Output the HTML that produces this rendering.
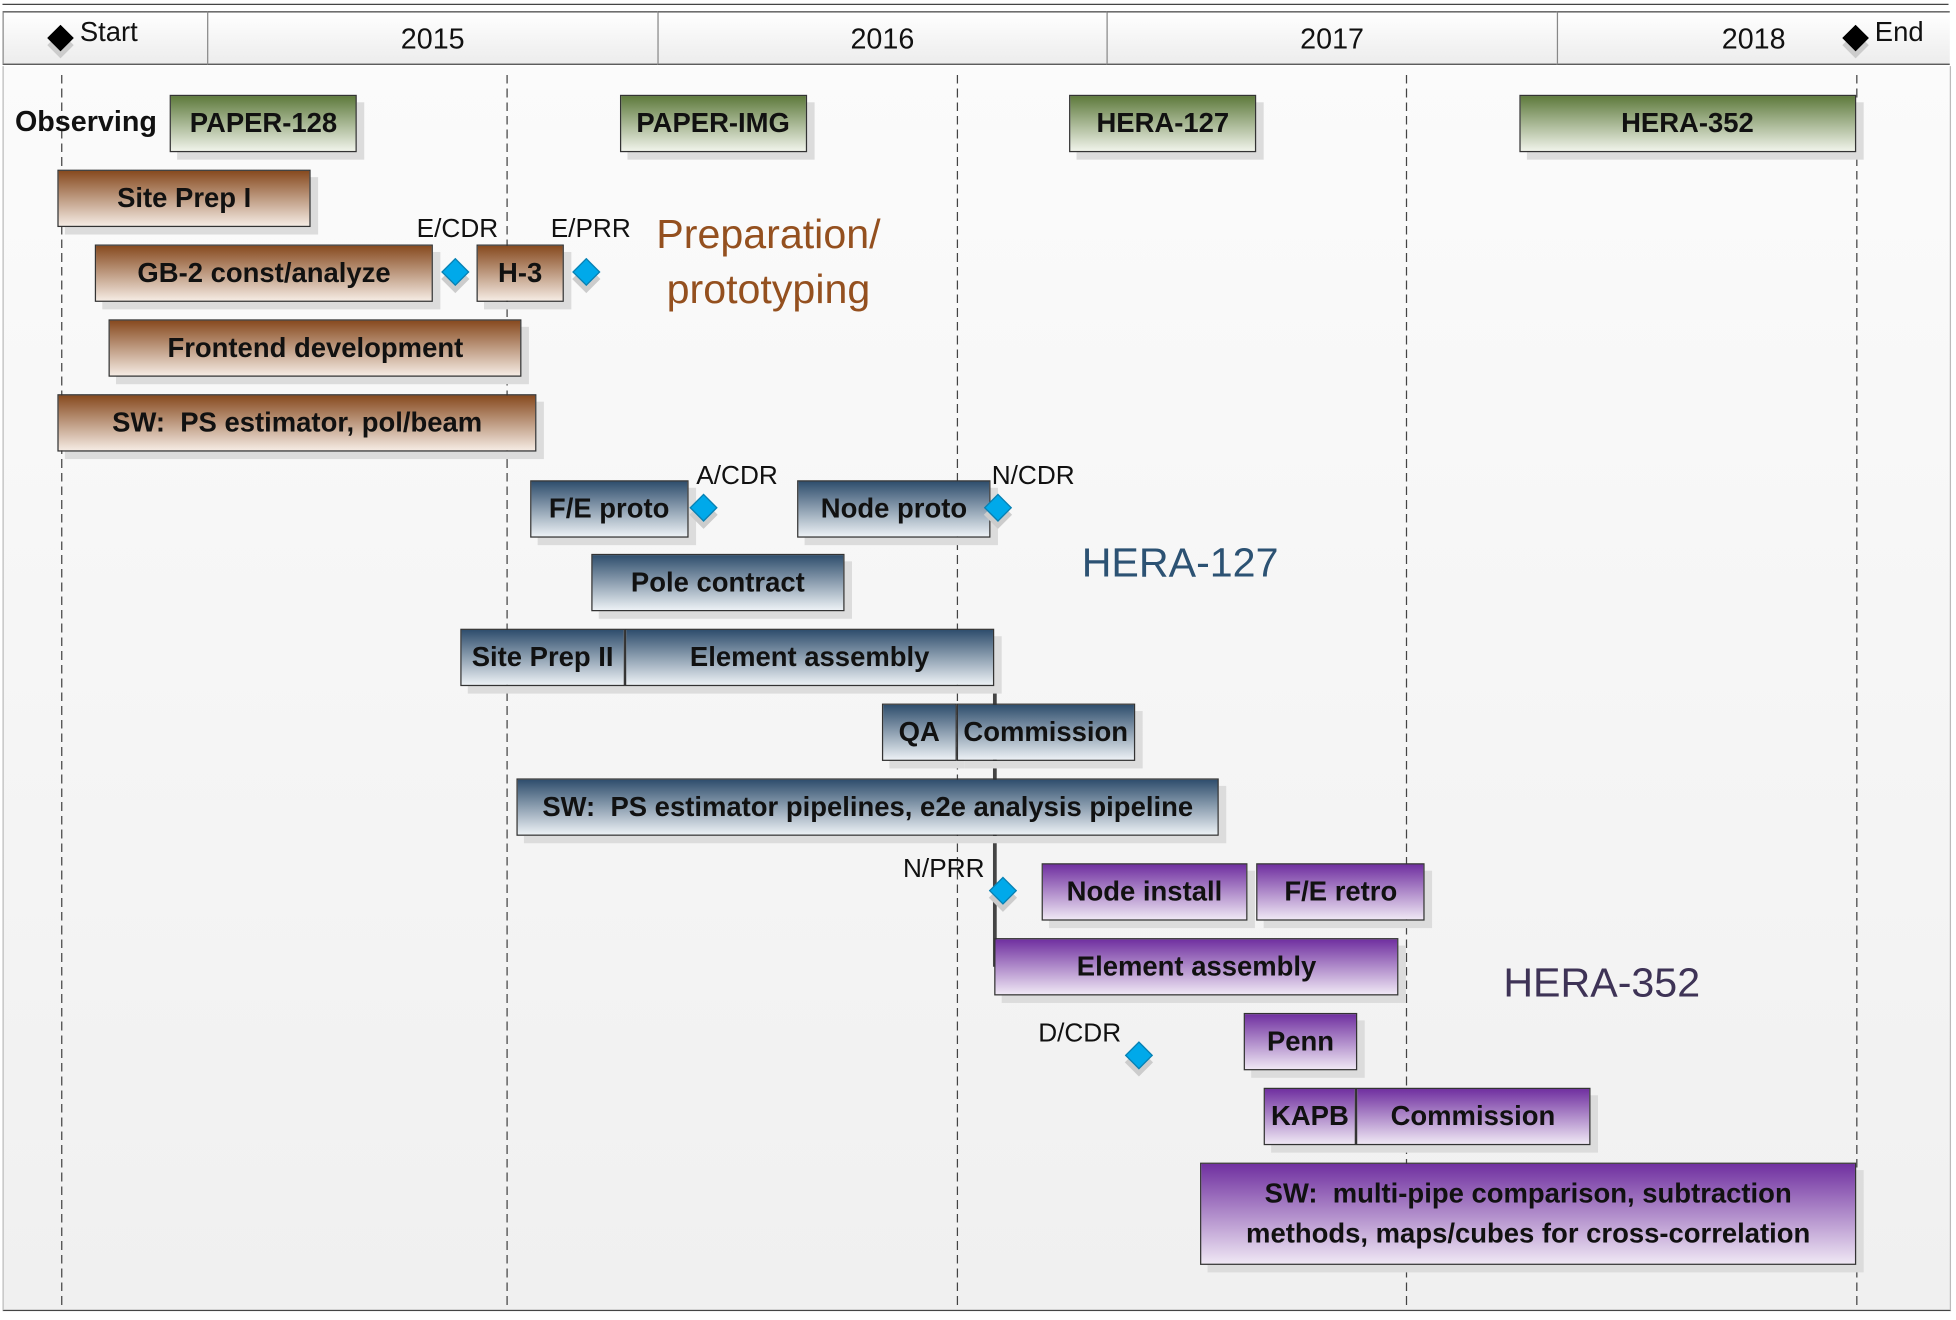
<!DOCTYPE html>
<html><head><meta charset="utf-8">
<style>
html,body{margin:0;padding:0;width:1956px;height:1319px;overflow:hidden;background:#fff;}
#wrap{position:absolute;left:0;top:0;width:1568px;height:1058px;transform:scale(1.24745);transform-origin:0 0;
 font-family:"Liberation Sans Narrow","Liberation Sans",sans-serif;}
.bg{position:absolute;left:2px;top:53px;width:1560px;height:997px;background:linear-gradient(#fbfbfb,#f0f0f0);border-left:1px solid #bbb;border-right:1px solid #bbb;border-bottom:1.5px solid #444;}
.hdr{position:absolute;top:9px;height:43px;background:linear-gradient(#ffffff,#ececec);border-top:1.5px solid #444;border-bottom:1.5px solid #444;border-left:1px solid #888;box-sizing:border-box;font-size:23px;color:#111;text-align:center;line-height:42px;}
.dash{position:absolute;top:60px;height:990px;width:1px;background:repeating-linear-gradient(#444 0 7px,transparent 7px 11px);}
.bar{position:absolute;box-sizing:border-box;border:1px solid #333;box-shadow:6px 6px 0 #dcdcdc;font-weight:bold;font-size:22px;color:#111;text-align:center;display:flex;align-items:center;justify-content:center;line-height:32px;}
.green{background:linear-gradient(#5e7a3c,#f0f3ea);}
.brown{background:linear-gradient(#874a1f,#f5ebe3);}
.blue{background:linear-gradient(#2f4e6d,#ecf1f5);}
.purple{background:linear-gradient(#7030a0,#efe7f4);}
.dia{position:absolute;width:14px;height:14px;background:#00a9ea;border:1px solid #0a7fb0;transform:rotate(45deg);box-shadow:4px 4px 0 #ccc;}
.lab{position:absolute;font-size:21px;color:#111;white-space:nowrap;line-height:24px;}
.big{position:absolute;font-size:33px;text-align:center;white-space:nowrap;}
</style></head><body>
<div id="wrap">
<div style="position:absolute;left:2px;top:3px;width:1560px;height:0;border-top:1.5px solid #444"></div>
<div class="bg"></div>
<div id="layer"></div>
<div class="big" style="left:500px;top:166px;width:232px;color:#94501f;line-height:44px">Preparation/<br>prototyping</div>
<div class="big" style="left:846px;top:432px;width:200px;color:#2c5273">HERA-127</div>
<div class="big" style="left:1184px;top:769px;width:200px;color:#3e3356">HERA-352</div>
<div style="position:absolute;left:12px;top:84px;font-size:23px;font-weight:bold;color:#111">Observing</div>
</div>
<script>
// months since start
const headerLabels=["","2015","2016","2017","2018"];
const headerBounds=[-1.55,3.9,15.9,27.9,39.9,50.4];
const gridMonths=[0,11.9,23.9,35.9,47.9];
const taskNames=["PAPER-128","PAPER-IMG","HERA-127","HERA-352","Site Prep I","GB-2 const/analyze","H-3","Frontend development","SW:&nbsp; PS estimator, pol/beam","F/E proto","Node proto","Pole contract","Site Prep II","Element assembly","QA","Commission","SW:&nbsp; PS estimator pipelines, e2e analysis pipeline","Node install","F/E retro","Element assembly","Penn","KAPB","Commission","SW:&nbsp; multi-pipe comparison, subtraction<br>methods, maps/cubes for cross-correlation"];
const taskStart=[2.9,14.9,26.9,38.9,-0.1,0.9,11.1,1.27,-0.1,12.5,19.65,14.15,10.65,15.05,21.9,23.9,12.15,26.15,31.9,24.9,31.55,32.1,34.55,30.4];
const taskEnd=[7.9,19.9,31.9,47.9,6.67,9.93,13.4,12.3,12.7,16.75,24.8,20.9,15.05,24.9,23.9,28.65,30.9,31.67,36.4,35.7,34.6,34.55,40.8,47.9];
const taskRow=[0,0,0,0,1,2,2,3,4,5,5,6,7,7,8,8,9,10,10,11,12,13,13,14];
const taskGroup=["green","green","green","green","brown","brown","brown","brown","brown","blue","blue","blue","blue","blue","blue","blue","blue","purple","purple","purple","purple","purple","purple","purple"];
const msNames=["E/CDR","E/PRR","A/CDR","N/CDR","N/PRR","D/CDR"];
const msMonth=[10.52,14.03,17.15,25.0,25.13,28.77];
const msRow=[2,2,5,5,10,12];
const x=m=>49+m*30.04;
const rowTops=[76,136,196,256,316,385,444,504,564,624,692,752,812,872,932];
const y=r=>rowTops[r];
// label placement (layout only)
const labDX=[-31,-29,-6,-5,-80,-81];
const labDY=[-46,-46,-37,-37,-29,-29];
const diaDY=[0,0,0,0,0,12];
const L=document.getElementById('layer');
function mk(cls,css){const d=document.createElement('div');d.className=cls;Object.assign(d.style,css);L.appendChild(d);return d;}
for(let i=0;i<headerLabels.length;i++){
 const d=mk('hdr',{left:x(headerBounds[i])+'px',width:(x(headerBounds[i+1])-x(headerBounds[i]))+'px'});
 d.textContent=headerLabels[i];
 
 
}
for(const g of gridMonths){
 const d=mk('dash',{left:x(g)+'px'});
 
 
}
[[0,'Start'],[47.9,'End']].forEach(([m,t])=>{
 const dd=mk('dia',{left:(x(m)-8)+'px',top:'23px',background:'#000',border:'1px solid #000',width:'13px',height:'13px'});
 
 
 const l=mk('lab',{left:(x(m)+15)+'px',top:'14px',fontSize:'22px'});l.textContent=t;
 
 
});
const cl=mk('',{position:'absolute',left:(x(24.9)-1)+'px',top:'549px',width:'3px',height:'226px',background:'#444'});


for(let i=0;i<taskNames.length;i++){
 const r=taskRow[i];const h=r===14?82:46;
 const d=mk('bar '+taskGroup[i],{left:x(taskStart[i])+'px',top:y(r)+'px',width:(x(taskEnd[i])-x(taskStart[i]))+'px',height:h+'px'});
 d.innerHTML=taskNames[i];
 
 
}
for(let i=0;i<msNames.length;i++){
 const cx=x(msMonth[i]),cy=y(msRow[i])+22+diaDY[i];
 const d=mk('dia',{left:(cx-8)+'px',top:(cy-8)+'px'});
 
 
 const l=mk('lab',{left:(cx+labDX[i])+'px',top:(cy+labDY[i])+'px'});
 l.textContent=msNames[i];
 
 
}
</script>
</body></html>
